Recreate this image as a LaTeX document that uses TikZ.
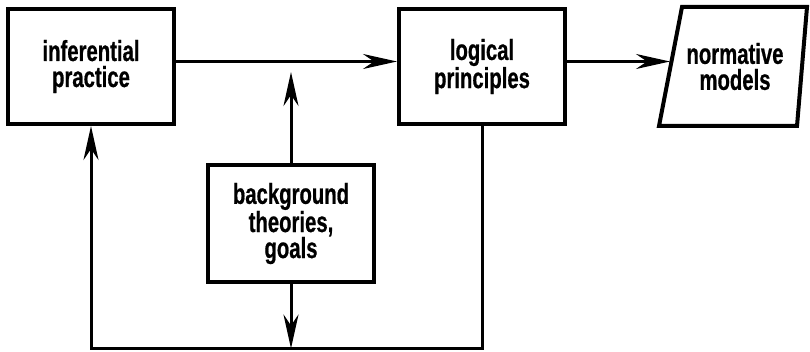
\documentclass[tikz,border=0pt]{standalone}
\usepackage{fontspec}
\newfontfamily\boxfont{Liberation Sans Bold}[FakeStretch=0.7, FakeBold=0.6]
\usetikzlibrary{arrows.meta}

\begin{document}
\begin{tikzpicture}[x=1pt, y=-1pt,
  txt/.style={align=center, font=\boxfont\fontsize{29}{26}\selectfont},
  box/.style={txt, draw, line width=4pt, minimum width=166pt, minimum height=115pt},
  arr/.style={line width=3pt, -{Stealth[length=34pt, width=15pt, inset=11pt]}}]
  \useasboundingbox (0,0) rectangle (810,352);
  % Boxes
  \node[box] (infer) at (91,66.5) {inferential\\practice};
  \node[box] (logic) at (482,66.5) {logical\\principles};
  \node[box, minimum height=117pt] (backgr) at (291,223.5) {background\\theories,\\goals};
  % Parallelogram
  \node[txt] (norm) at (735,66.5) {normative\\models};
  \draw[line width=4pt] (682,7) -- (807,7) -- (797,126) -- (659,126) -- cycle;
  \coordinate (normin) at (670,61.5);
  % Arrows
  \draw[arr] ([yshift=5pt]infer.east) -- ([yshift=5pt]logic.west);
  \draw[arr] ([yshift=5pt]logic.east) -- (normin);
  \coordinate (uptip) at (291,72);
  \draw[arr] (backgr.north) -- (uptip);
  \coordinate (downtip) at (291,348.5);
  \draw[arr] (backgr.south) -- (downtip);
  % Feedback loop
  \draw[arr] (logic.south) -- ++(0,222) -| (infer.south);
\end{tikzpicture}
\end{document}
